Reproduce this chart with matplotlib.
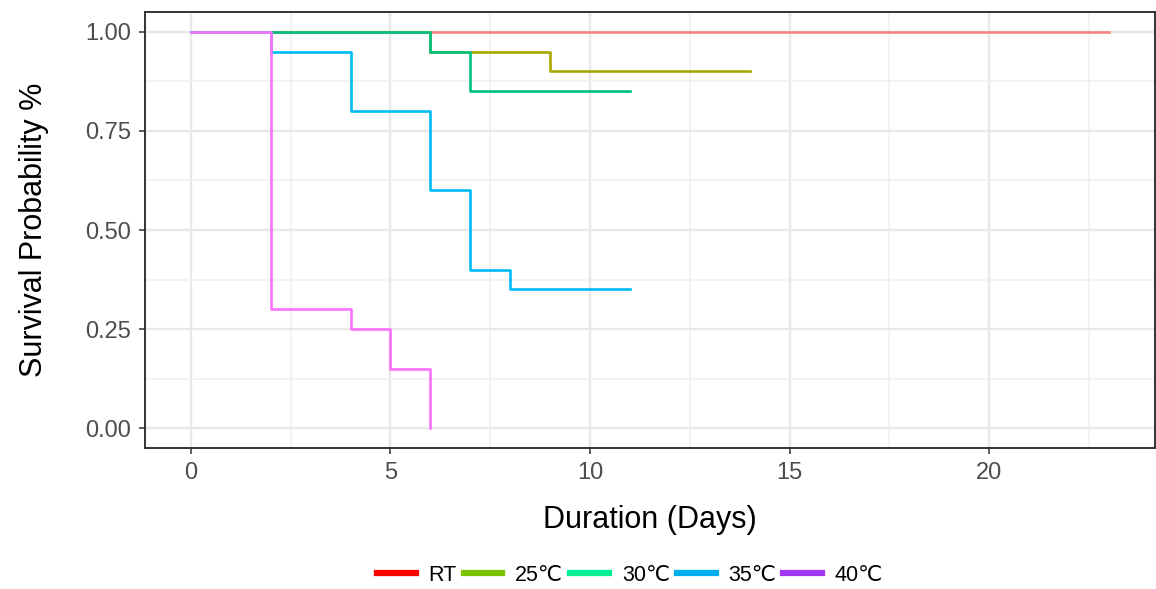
import matplotlib.pyplot as plt
from matplotlib.lines import Line2D
from matplotlib.ticker import MultipleLocator

plt.rcParams['font.family'] = ['Liberation Sans', 'DejaVu Sans']

# ---- data (Kaplan-Meier steps) ----
groups = ["RT", "25℃", "30℃", "35℃", "40℃"]
rt_t = [0, 23]
rt_s = [1.0, 1.0]
t25_t = [0, 6, 9, 14]
t25_s = [1.0, 0.95, 0.90, 0.90]
t30_t = [0, 6, 7, 11]
t30_s = [1.0, 0.95, 0.85, 0.85]
t35_t = [0, 2, 4, 6, 7, 8, 11]
t35_s = [1.0, 0.95, 0.80, 0.60, 0.40, 0.35, 0.35]
t40_t = [0, 2, 4, 5, 6]
t40_s = [1.0, 0.30, 0.25, 0.15, 0.0]

curves = [(rt_t, rt_s), (t25_t, t25_s), (t30_t, t30_s), (t35_t, t35_s), (t40_t, t40_s)]
line_colors = ["#F8857D", "#A8A800", "#00C084", "#00BBF5", "#FF70FF"]
legend_colors = ["#FF0000", "#7DC400", "#00F096", "#00AEEC", "#A238F5"]

fig = plt.figure(figsize=(11.56, 5.89), dpi=100)
ax = fig.add_axes([0.1254, 0.2394, 0.8736, 0.7402])

for (t, s), c in zip(curves, line_colors):
    ax.step(t, s, where="post", color=c, lw=1.9, zorder=3)

ax.set_xlim(-1.15, 24.15)
ax.set_ylim(-0.05, 1.05)
ax.xaxis.set_major_locator(MultipleLocator(5))
ax.xaxis.set_minor_locator(MultipleLocator(2.5))
ax.yaxis.set_major_locator(MultipleLocator(0.25))
ax.yaxis.set_minor_locator(MultipleLocator(0.125))
ax.yaxis.set_major_formatter(plt.FuncFormatter(lambda v, p: f"{v:.2f}"))

ax.grid(True, which="major", color="#E8E8E8", lw=1.7, zorder=0)
ax.grid(True, which="minor", color="#F0F0F0", lw=1.1, zorder=0)
ax.tick_params(which="minor", length=0)
ax.tick_params(which="major", length=4, width=1.1, color="#333333",
               labelsize=17, labelcolor="#4D4D4D", pad=6)
for sp in ax.spines.values():
    sp.set_color("#333333")
    sp.set_linewidth(1.4)

ax.set_xlabel("Duration (Days)", fontsize=22, labelpad=15)
ax.set_ylabel("Survival Probability %", fontsize=22, labelpad=26)

handles = [Line2D([0], [0], color=c, lw=4.5) for c in legend_colors]
fig.legend(handles, groups, loc="lower center", bbox_to_anchor=(0.545, -0.027),
           ncol=5, frameon=False, fontsize=15.5, handlelength=1.8,
           handletextpad=0.6, columnspacing=0.32)

plt.savefig("out.png", dpi=100)
